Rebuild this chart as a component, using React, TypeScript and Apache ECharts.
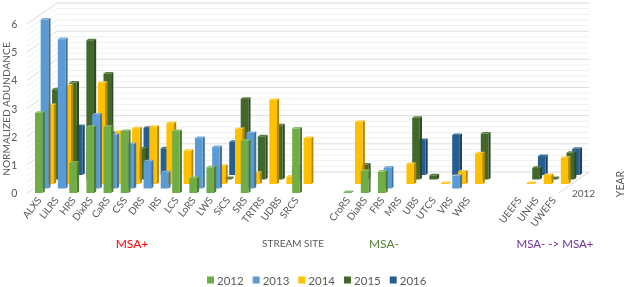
import React, { useEffect, useRef } from "react";
import * as echarts from "echarts";

const categories = ["ALXS","LiLRS","HRS","DixRS","CaRS","CSS","DRS","IRS","LCS","LoRS","LWS","SiCS","SRS","TRTRS","UDBS","SRCS","","","CroRS","DiaRS","FRS","MRS","UBS","UTCS","VRS","WRS","","","UEEFS","UNHS","UWEFS"];
const years = ["2012","2013","2014","2015","2016"];
const colors = ["#70AD47","#5B9BD5","#FFC000","#43682B","#255E91"];
const sideColors = ["#4F7A32","#41719C","#B38700","#2E4A1E","#1A4266"];
const topColors = ["#8BBF68","#7DB0DE","#FFCF40","#5A7F42","#3F769F"];
const _ = null;
const v2012 = [2.85,_,1.07,2.35,2.35,2.2,_,_,2.2,0.53,0.91,_,1.85,_,_,2.29,_,_,0.03,0.78,0.76,_,_,_,_,_,_,_,_,_,_];
const v2013 = [6.0,5.3,_,2.62,1.9,1.58,0.96,0.57,_,1.79,1.47,_,1.97,_,_,_,_,_,_,_,0.74,_,_,_,0.45,_,_,_,_,_,_];
const v2014 = [2.8,3.5,_,3.59,1.85,1.98,2.03,2.16,1.18,_,0.64,1.95,0.4,2.98,0.26,1.63,_,_,2.21,_,_,0.71,_,0.03,0.44,1.09,_,_,0.03,0.32,0.93];
const v2015 = [3.2,3.44,4.94,3.76,_,1.1,_,_,_,_,0.05,2.86,1.53,1.92,0.47,_,_,_,0.53,_,_,2.19,0.15,_,_,1.63,_,_,0.41,0.05,0.95];
const v2016 = [_,1.74,_,1.49,_,1.67,0.95,_,_,_,1.18,_,_,_,_,_,_,_,_,_,_,1.24,_,1.42,_,_,_,_,0.67,_,0.93];
const yearValues = [v2012,v2013,v2014,v2015,v2016];
const gridMajor = [0,1,2,3,4,5,6];
const gridMinor = [0.2,0.4,0.6,0.8,1.2,1.4,1.6,1.8,2.2,2.4,2.6,2.8,3.2,3.4,3.6,3.8,4.2,4.4,4.6,4.8,5.2,5.4,5.6,5.8];
const valueTicks = 6;

const FONT = "Lato, 'Open Sans', sans-serif";
const GRAY = "#595959";

export default function App() {
  const ref = useRef<HTMLDivElement>(null);
  useEffect(() => {
    const chart = echarts.init(ref.current!, undefined, { renderer: "svg" });
    const BAR_W = 7.6, SIDE_X = 2.2, SIDE_Y = 1.6, STEP_X = 5.7, STEP_Y = 4.5;
    const WALL_X = 30, WALL_Y = 21;
    const wall = (color: string, width: number) => (params: any, api: any) => {
      const p = api.coord([0, api.value(0)]);
      const cs = params.coordSys;
      const lx = cs.x - 3.4;
      const rx = cs.x + cs.width - 3;
      return {
        type: "polyline",
        shape: { points: [[lx, p[1]], [lx + WALL_X, p[1] - WALL_Y], [rx + WALL_X, p[1] - WALL_Y]] },
        style: { stroke: color, lineWidth: width, fill: "none" },
        silent: true,
      };
    };
    const floor = (params: any, api: any) => {
      const p = api.coord([0, 0]);
      const cs = params.coordSys;
      const rx = cs.x + cs.width - 3;
      return {
        type: "polyline",
        shape: { points: [[rx, p[1]], [rx + WALL_X, p[1] - WALL_Y]] },
        style: { stroke: "#D9D9D9", lineWidth: 1, fill: "none" },
        silent: true,
      };
    };
    const bars = (k: number) => (params: any, api: any) => {
      const v = api.value(1);
      if (v == null || isNaN(v)) return null;
      const b = api.coord([api.value(0), 0]);
      const t = api.coord([api.value(0), v]);
      const x0 = b[0] - 4 + k * STEP_X;
      const x1 = x0 + BAR_W;
      const yb = b[1] - k * STEP_Y;
      const yt = t[1] - k * STEP_Y;
      return {
        type: "group",
        children: [
          { type: "polygon", shape: { points: [[x1, yb], [x1 + SIDE_X, yb - SIDE_Y], [x1 + SIDE_X, yt - SIDE_Y], [x1, yt]] }, style: { fill: sideColors[k] } },
          { type: "polygon", shape: { points: [[x0, yt], [x0 + SIDE_X, yt - SIDE_Y], [x1 + SIDE_X, yt - SIDE_Y], [x1, yt]] }, style: { fill: topColors[k] } },
          { type: "rect", shape: { x: x0, y: yt, width: BAR_W, height: yb - yt }, style: { fill: colors[k] } },
        ],
      };
    };
    const barSeries = [4, 3, 2, 1, 0].map((k) => ({
      type: "custom",
      name: years[k],
      renderItem: bars(k),
      itemStyle: { color: colors[k] },
      encode: { x: 0, y: 1 },
      data: yearValues[k].map((v, i) => [i, v]),
    }));
    chart.setOption({
      animation: false,
      textStyle: { fontFamily: FONT },
      grid: { left: 30.4, top: 24, width: 531.6, height: 169, outerBoundsMode: "none" },
      legend: {
        data: years,
        left: 207,
        top: 274,
        padding: 0,
        itemWidth: 7,
        itemHeight: 7,
        itemGap: 9,
        icon: "rect",
        textStyle: { color: GRAY, fontSize: 11.5, fontFamily: FONT, padding: [0, 0, 0, -2] },
      },
      xAxis: {
        type: "category",
        data: categories,
        axisLine: { show: false },
        axisTick: { show: false },
        axisLabel: { interval: 0, rotate: 52, color: GRAY, fontSize: 10, fontFamily: FONT, margin: 5, hideOverlap: false },
      },
      yAxis: {
        type: "value",
        min: 0,
        max: valueTicks,
        interval: 1,
        splitLine: { show: false },
        axisLine: { show: false },
        axisTick: { show: false },
        axisLabel: { color: GRAY, fontSize: 10.5, fontFamily: FONT, margin: 13 },
      },
      series: [
        { type: "custom", name: "minor", renderItem: wall("#EFEFEF", 1), encode: { y: 0 }, data: gridMinor.map((v) => [v]), silent: true },
        { type: "custom", name: "major", renderItem: wall("#DCDCDC", 1), encode: { y: 0 }, data: gridMajor.map((v) => [v]), silent: true },
        { type: "custom", name: "floor", renderItem: floor, encode: { y: 0 }, data: [[0]], silent: true },
        ...barSeries,
      ],
      graphic: [
        { type: "text", x: 6, y: 109, rotation: Math.PI / 2, style: { text: "NORMALIZED ADUNDANCE", fill: GRAY, fontSize: 10.2, fontFamily: FONT, align: "center", verticalAlign: "middle" } },
        { type: "text", x: 132, y: 243, style: { text: "MSA+", fill: "#FF0000", fontSize: 12, fontFamily: FONT, align: "center", verticalAlign: "middle" } },
        { type: "text", x: 293, y: 243, style: { text: "STREAM SITE", fill: GRAY, fontSize: 10, fontFamily: FONT, align: "center", verticalAlign: "middle" } },
        { type: "text", x: 384, y: 243, style: { text: "MSA-", fill: "#548235", fontSize: 12, fontFamily: FONT, align: "center", verticalAlign: "middle" } },
        { type: "text", x: 555, y: 243, style: { text: "MSA- -> MSA+", fill: "#7030A0", fontSize: 11.5, fontFamily: FONT, align: "center", verticalAlign: "middle" } },
        { type: "text", x: 583.5, y: 193, style: { text: "2012", fill: GRAY, fontSize: 10, fontFamily: FONT, align: "center", verticalAlign: "middle" } },
        { type: "text", x: 620, y: 184, rotation: Math.PI / 2, style: { text: "YEAR", fill: GRAY, fontSize: 10.5, fontFamily: FONT, align: "center", verticalAlign: "middle" } },
      ],
    });
    return () => chart.dispose();
  }, []);
  return <div ref={ref} style={{ position: "fixed", left: 0, top: 0, width: 625, height: 287 }} />;
}
